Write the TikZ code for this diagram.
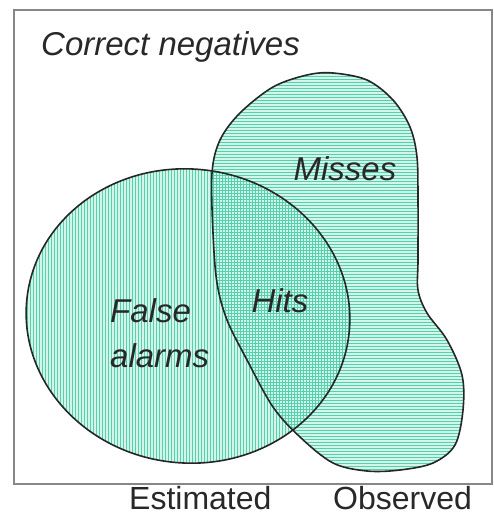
\documentclass[tikz,border=0pt]{standalone}
\usepackage{fontspec}
\setmainfont{Liberation Sans}
\definecolor{mint}{RGB}{212,245,234}
\definecolor{hatch}{RGB}{85,208,172}
\definecolor{framegray}{RGB}{135,135,135}
\definecolor{txt}{RGB}{40,40,40}
\tikzset{
  lbl/.style={inner sep=0pt, text=txt, font=\fontsize{33}{38}\selectfont\itshape},
  axlbl/.style={inner sep=0pt, text=txt, font=\fontsize{32}{38}\selectfont},
  hatchline/.style={draw=hatch, line width=0.85pt},
  outline/.style={draw=black!85, line width=1.6pt}
}
\def\blobpath{plot[smooth cycle, tension=0.55] coordinates {(333,73) (367,80) (393,100) (410,127) (417,157) (418,200) (418,260) (418,290) (427,313) (447,340) (462,375) (463,410) (455,445) (433,463) (400,470) (367,471) (333,463) (300,437) (273,407) (247,360) (227,320) (217,283) (213,233) (212,173) (220,140) (240,113) (273,87) (307,75)}}
\def\ellpath{[rotate around={-6:(188,316)}] (188,316) ellipse [x radius=162pt, y radius=147pt]}
\begin{document}
\begin{tikzpicture}[x=1pt,y=-1pt]
\useasboundingbox (0,0) rectangle (494,517);
% fills
\fill[mint] \blobpath;
\fill[mint] \ellpath;
\begin{scope}
  \clip \blobpath;
  \foreach \y in {70,73,...,478} { \draw[hatchline] (200,\y) -- (470,\y); }
\end{scope}
\begin{scope}
  \clip \ellpath;
  \foreach \x in {24,27,...,354} { \draw[hatchline] (\x,160) -- (\x,470); }
\end{scope}
% outlines
\draw[outline] \blobpath;
\draw[outline] \ellpath;
% frame
\draw[framegray, line width=1.6pt] (14,10) rectangle (492,484);
% labels
\node[lbl, anchor=base west] (cn) at (41,55) {Correct negatives};
\node[lbl, anchor=base] (mi) at (345,180) {Misses};
\node[lbl, anchor=base] (hi) at (280,312) {Hits};
\node[lbl, anchor=base west] (fa1) at (110,322) {False};
\node[lbl, anchor=base west] (fa2) at (110,367) {alarms};
\node[axlbl, anchor=base west] (est) at (129,509) {Estimated};
\node[axlbl, anchor=base west] (obs) at (333,509) {Observed};
\end{tikzpicture}
\end{document}
